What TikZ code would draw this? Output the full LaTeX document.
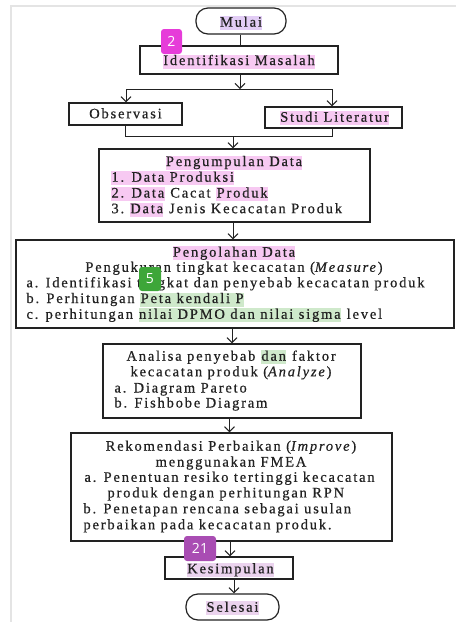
\documentclass[tikz,border=0pt]{standalone}
\usepackage{fontspec}
\setmainfont{Liberation Serif}[LetterSpace=12.5,FakeBold=0.6]
\newfontfamily\badgefont{Open Sans}
\usetikzlibrary{arrows.meta}
\definecolor{ink}{HTML}{222222}
\definecolor{framec}{HTML}{E4E4E4}
\definecolor{pinkhl}{HTML}{F7C9F2}
\definecolor{greenhl}{HTML}{CFE9CB}
\definecolor{lavhl}{HTML}{E2CDF5}
\definecolor{lavhlb}{HTML}{EBD3EE}
\definecolor{bmag}{HTML}{E63CD9}
\definecolor{bgreen}{HTML}{3DA639}
\definecolor{bpurp}{HTML}{A94DB3}
\newcommand\txtfont{\fontsize{14.5}{15.7}\selectfont}
\newcommand\gap{\hspace*{0.35em}}
\begin{document}
\begin{tikzpicture}[x=1pt,y=-1pt,
  every node/.style={inner sep=0pt, text=ink},
  txt/.style={font=\txtfont, text height=10.5pt, text depth=3.5pt, inner xsep=0.3pt},
  box/.style={draw=ink, line width=1.2pt},
  pill/.style={box, rounded corners=12pt},
  arr/.style={draw=ink, line width=1pt, -{Straight Barb[length=5pt,width=10pt]}},
  con/.style={draw=ink, line width=1pt},
  hp/.style={fill=pinkhl}, hg/.style={fill=greenhl}, hv/.style={fill=lavhl}, hvb/.style={fill=lavhlb},
  badge/.style={rounded corners=3pt, text=white, font=\badgefont\fontsize{14}{14}\selectfont}
]
\useasboundingbox (0,0) rectangle (456,622);
% frame
\draw[framec, line width=1.5pt] (11,622) -- (11,6) -- (456,6);

% boxes
\node[pill, minimum width=90pt, minimum height=26pt] (mulai) at (241,21) {};
\node[box, minimum width=198pt, minimum height=28pt] (ident) at (239,60) {};
\node[box, minimum width=113pt, minimum height=22pt] (obs) at (125.5,114) {};
\node[box, minimum width=137pt, minimum height=21pt] (studi) at (333.5,117.5) {};
\node[box, minimum width=271pt, minimum height=73pt] (kumpul) at (234.5,185.5) {};
\node[box, minimum width=438pt, minimum height=88pt] (olah) at (235,284) {};
\node[box, minimum width=258pt, minimum height=74pt] (analisa) at (232,381) {};
\node[box, minimum width=321pt, minimum height=108pt] (rekom) at (231.5,487) {};
\node[box, minimum width=128pt, minimum height=22pt] (kes) at (229,568) {};
\node[pill, minimum width=93pt, minimum height=26pt] (selesai) at (232.5,607) {};

% texts
\node[txt, hv, anchor=base] (tmulai) at (241,26.7) {Mulai};
\node[txt, hp, anchor=base] (tident) at (239,65) {Identifikasi Masalah};
\node[txt, anchor=base] (tobs) at (125.5,118.3) {Observasi};
\node[txt, hp, anchor=base] (tstudi) at (334.5,121.7) {Studi Literatur};

\node[txt, hp, anchor=base] (k0) at (234,166) {Pengumpulan Data};
\node[txt, hp, anchor=base west] (k1) at (111,181.7) {1. Data Produksi};
\node[txt, hp, anchor=base west] (k2a) at (111,197.5) {2. Data};
\node[txt, anchor=base west] (k2b) at (k2a.base east) {\gap Cacat\gap};
\node[txt, hp, anchor=base west] (k2c) at (k2b.base east) {Produk};
\node[txt, anchor=base west] (k3a) at (111,213.2) {3.\gap};
\node[txt, hp, anchor=base west] (k3b) at (k3a.base east) {Data};
\node[txt, anchor=base west] (k3c) at (k3b.base east) {\gap Jenis Kecacatan Produk};

\node[txt, hp, anchor=base] (o0) at (234,256.7) {Pengolahan Data};
\node[txt, anchor=base] (o1) at (234,271.8) {Pengukuran tingkat kecacatan (\textit{Measure})};
\node[txt, anchor=base west] (o2) at (26,287.3) {a. Identifikasi tingkat dan penyebab kecacatan produk};
\node[txt, anchor=base west] (o3a) at (26,303) {b. Perhitungan\gap};
\node[txt, hg, anchor=base west] (o3b) at (o3a.base east) {Peta kendali P};
\node[txt, anchor=base west] (o4a) at (26,318.8) {c. perhitungan\gap};
\node[txt, hg, anchor=base west] (o4b) at (o4a.base east) {nilai DPMO dan nilai sigma};
\node[txt, anchor=base west] (o4c) at (o4b.base east) {\gap level};

\node[txt, anchor=base west] (a1a) at (126,360.7) {Analisa penyebab\gap};
\node[txt, hg, anchor=base west] (a1b) at (a1a.base east) {dan};
\node[txt, anchor=base west] (a1c) at (a1b.base east) {\gap faktor};
\node[txt, anchor=base] (a2) at (231,376.3) {kecacatan produk (\textit{Analyze})};
\node[txt, anchor=base west] (a3) at (114,392.5) {a. Diagram Pareto};
\node[txt, anchor=base west] (a4) at (114,407.5) {b. Fishbobe Diagram};

\node[txt, anchor=base] (r1) at (231,450.7) {Rekomendasi Perbaikan (\textit{Improve})};
\node[txt, anchor=base] (r2) at (231,466.5) {menggunakan FMEA};
\node[txt, anchor=base west] (r3) at (84,481.8) {a. Penentuan resiko tertinggi kecacatan};
\node[txt, anchor=base west] (r4) at (107,497.4) {produk dengan perhitungan RPN};
\node[txt, anchor=base west] (r5) at (83,513.3) {b. Penetapan rencana sebagai usulan};
\node[txt, anchor=base west] (r6) at (83,529.3) {perbaikan pada kecacatan produk.};

\node[txt, hvb, anchor=base] (tkes) at (230.5,573.3) {Kesimpulan};
\node[txt, hvb, anchor=base] (tsel) at (232.5,611.7) {Selesai};

% connectors
\coordinate (j1) at (240,89);
\coordinate (j1l) at (126,89);
\coordinate (j1r) at (332,89);
\coordinate (j2) at (233,136);
\coordinate (j2l) at (125.5,136);
\coordinate (j2r) at (332,136);
\draw[con] (mulai.south -| j1) -- (ident.north -| j1);
\draw[arr] (ident.south -| j1) -- (j1);
\draw[con] (j1l) -- (j1r);
\draw[arr] (j1l) -- (j1l |- obs.north);
\draw[arr] (j1r) -- (j1r |- studi.north);
\draw[con] (j2l |- obs.south) -- (j2l) -- (j2r) -- (j2r |- studi.south);
\draw[arr] (j2) -- (j2 |- kumpul.north);
\draw[arr] (kumpul.south -| j2) -- (olah.north -| j2);
\coordinate (c3) at (232,0);
\draw[arr] (olah.south -| c3) -- (analisa.north -| c3);
\coordinate (c4) at (229.5,0);
\draw[arr] (analisa.south -| c4) -- (rekom.north -| c4);
\coordinate (c5) at (230,0);
\draw[arr] (rekom.south -| c5) -- (kes.north -| c5);
\coordinate (c6) at (234,0);
\draw[arr] (kes.south -| c6) -- (selesai.north -| c6);

% badges
\node[badge, fill=bmag, minimum width=21pt, minimum height=25pt] (b2) at (171.5,41.5) {2};
\node[badge, fill=bgreen, minimum width=22pt, minimum height=24pt] (b5) at (150,279) {5};
\node[badge, fill=bpurp, minimum width=32pt, minimum height=25pt] (b21) at (200,548.5) {21};
\end{tikzpicture}
\end{document}
